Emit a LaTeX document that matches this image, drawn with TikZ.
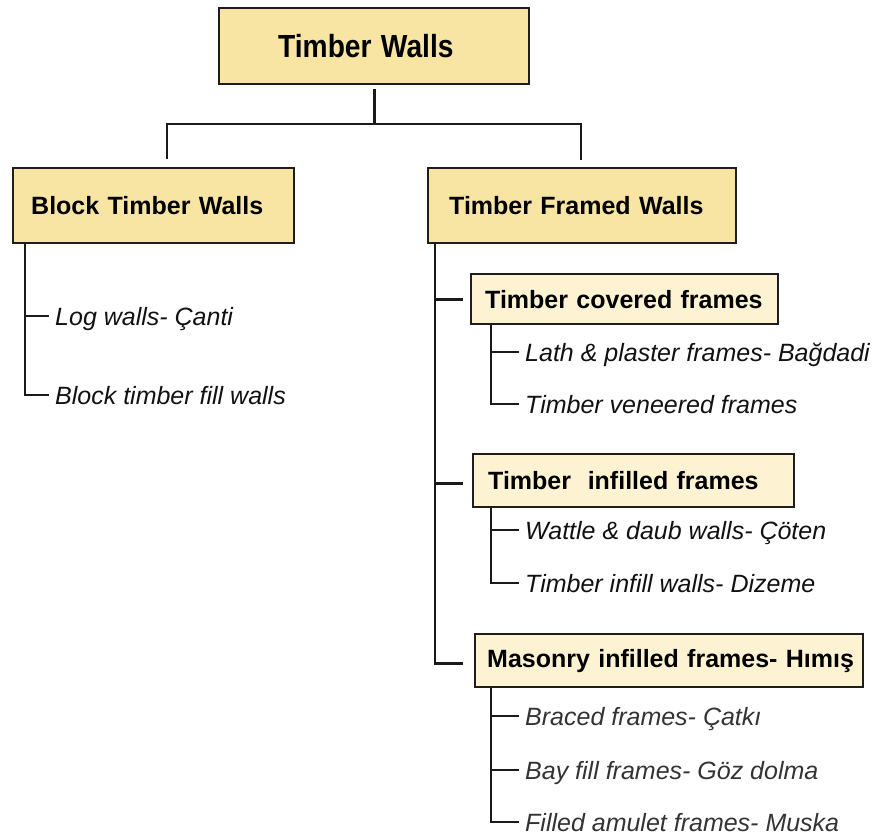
\documentclass[tikz,border=0pt]{standalone}
\usepackage{fontspec}
\usepackage{graphicx}
\setmainfont{Liberation Sans}
\definecolor{mainfill}{HTML}{F8E5A3}
\definecolor{subfill}{HTML}{FDF3D3}
\definecolor{boxline}{HTML}{1E1E1E}
\definecolor{linecol}{HTML}{1A1A1A}
\definecolor{itemcol}{HTML}{111111}
\definecolor{itemgray}{HTML}{333333}
\tikzset{
  mainbox/.style={draw=boxline, line width=2.4pt, fill=mainfill, anchor=north west, align=left,
    inner ysep=0pt, font=\fontsize{25}{30}\selectfont\bfseries},
  subbox/.style={mainbox, fill=subfill},
  item/.style={anchor=west, inner xsep=6pt, inner ysep=0pt, text height=18pt, text depth=0pt,
    font=\fontsize{25}{30}\selectfont\itshape, text=itemcol},
  grayitem/.style={item, text=itemgray},
  conn/.style={draw=linecol, line width=2.8pt},
}
\begin{document}
\begin{tikzpicture}[x=1pt, y=-1pt]
\useasboundingbox (0,0) rectangle (880,837);

% boxes
\node[mainbox, minimum width=310pt, minimum height=76pt, inner xsep=59pt, text width=192pt,
  font=\fontsize{32}{36}\selectfont\bfseries] (top) at (218,7) {\scalebox{0.88}[1]{Timber Walls}};
\node[mainbox, minimum height=75pt, inner xsep=18pt, text width=245pt] (blk) at (12,167) {\mbox{Block Timber Walls}};
\node[mainbox, minimum height=75pt, inner xsep=21pt, text width=266pt] (frm) at (427,167) {\mbox{Timber Framed Walls}};
\node[subbox, minimum height=50pt, inner xsep=14pt, text width=279pt] (tcf) at (470,273) {\mbox{Timber covered frames}};
\node[subbox, minimum height=53pt, inner xsep=15pt, text width=291pt] (tif) at (472,453) {\mbox{Timber\ \ infilled frames}};
\node[subbox, minimum height=53pt, inner xsep=12pt, text width=364pt] (mas) at (474,633) {\mbox{Masonry infilled frames- Hımış}};

% items
\node[item] (log) at (49,316) {Log walls- Çanti};
\node[item] (btf) at (49,395) {Block timber fill walls};
\node[item] (lath) at (519,352) {Lath \& plaster frames- Bağdadi};
\node[item] (ven) at (519,404) {Timber veneered frames};
\node[item] (wat) at (519,530) {Wattle \& daub walls- Çöten};
\node[item] (tiw) at (519,583) {Timber infill walls- Dizeme};
\node[grayitem] (brc) at (519,716) {Braced frames- Çatkı};
\node[grayitem] (bay) at (519,770) {Bay fill frames- Göz dolma};
\node[grayitem] (fam) at (519,822) {Filled amulet frames- Muska};

% top-level connectors
\coordinate (jl) at (167,124);
\coordinate (jr) at (581,124);
\coordinate (ts) at ([yshift=-4pt]top.south);
\coordinate (bn) at ([yshift=8pt]blk.north);
\coordinate (fn) at ([yshift=7pt]frm.north);
\draw[conn] (ts) -- (ts |- jl);
\draw[conn] (bn -| jl) -- (jl) -- (jr) -- (fn -| jr);

% block trunk
\coordinate (blt) at ([xshift=13pt]blk.south west);
\draw[conn] (blt) |- (log.west);
\draw[conn] (blt) |- (btf.west);

% framed trunk
\coordinate (frt) at ([xshift=8pt]frm.south west);
\draw[conn] (frt) |- ([xshift=-7pt]tcf.west);
\draw[conn] (frt) |- ([xshift=-9pt,yshift=-3pt]tif.west);
\draw[conn] (frt) |- ([xshift=-11pt,yshift=-3pt]mas.west);

% sub trunks
\coordinate (tct) at ([xshift=21pt]tcf.south west);
\draw[conn] (tct) |- (lath.west);
\draw[conn] (tct) |- (ven.west);
\coordinate (tit) at ([xshift=19pt]tif.south west);
\draw[conn] (tit) |- (wat.west);
\draw[conn] (tit) |- (tiw.west);
\coordinate (mat) at ([xshift=17pt]mas.south west);
\draw[conn] (mat) |- (brc.west);
\draw[conn] (mat) |- (bay.west);
\draw[conn] (mat) |- (fam.west);
\end{tikzpicture}
\end{document}
